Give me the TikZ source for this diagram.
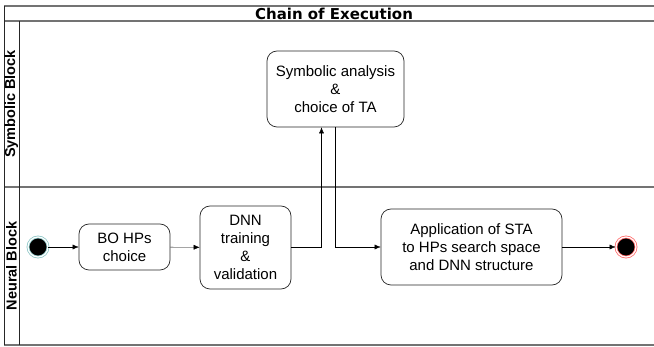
\documentclass[tikz,border=0pt]{standalone}
\usepackage{fontspec}
\usetikzlibrary{arrows.meta}
\setmainfont{Liberation Sans}
\newfontfamily\titlefont{DejaVu Sans}
\tikzstyle{activity}=[draw=black!85, line width=.7pt, rounded corners=10pt, align=center, inner sep=2pt, font=\fontsize{15}{18}\selectfont]
\tikzstyle{start state}=[circle, draw=teal!45, fill=black, double=white, double distance=1.2pt, line width=.8pt, minimum size=20pt, inner sep=0pt]
\tikzstyle{end state}=[circle, draw=red!60, fill=black, double=white, double distance=1.2pt, line width=.8pt, minimum size=20pt, inner sep=0pt]
\tikzstyle{lane}=[draw=gray!90!black, line width=1.2pt]
\tikzstyle{lane label}=[rotate=90, font=\fontsize{14.5}{17}\selectfont\bfseries]

\begin{document}
\begin{tikzpicture}[>={Latex[length=6pt,width=5pt]},x=1pt,y=-1pt]
    \useasboundingbox (0,0) rectangle (654,347);

    % Pool and lanes
    \draw[lane] (4,6) -- (654,6);
    \draw[lane] (4,21) -- (654,21);
    \draw[lane] (4,187) -- (654,187);
    \draw[lane] (4,345) -- (654,345);
    \draw[black!85, line width=.7pt] (4,6) -- (4,345);
    \draw[black!85, line width=.7pt] (19,21) -- (19,345);
    \node[font=\titlefont\fontsize{15}{18}\selectfont\bfseries] (title) at (334,13.5) {Chain of Execution};
    \node[lane label] (symlane) at (11.5,104) {Symbolic Block};
    \node[lane label] (neurlane) at (11.5,266) {Neural Block};

    % Activities
    \node[activity, minimum width=137pt, minimum height=76pt] (sym) at (335.5,89) {Symbolic analysis\\\&\\choice of TA};
    \node[activity, minimum width=91pt, minimum height=46pt] (bo) at (124.5,247) {BO HPs\\choice};
    \node[activity, minimum width=91pt, minimum height=83pt] (dnn) at (245.5,247.5) {DNN\\training\\\&\\validation};
    \node[activity, minimum width=181pt, minimum height=76pt] (app) at (471.5,247) {Application of STA\\to HPs search space\\and DNN structure};

    % States
    \node[start state] (start) at (38,247) {};
    \node[end state] (end) at (626,247) {};

    % Flow
    \draw[->] (start) -- (bo);
    \draw[->] (bo) -- (dnn);
    \draw[->] (dnn.east) -| ([xshift=-14pt]sym.south);
    \draw[->] (sym.south) |- (app.west);
    \draw[->] (app) -- (end);

\end{tikzpicture}
\end{document}
